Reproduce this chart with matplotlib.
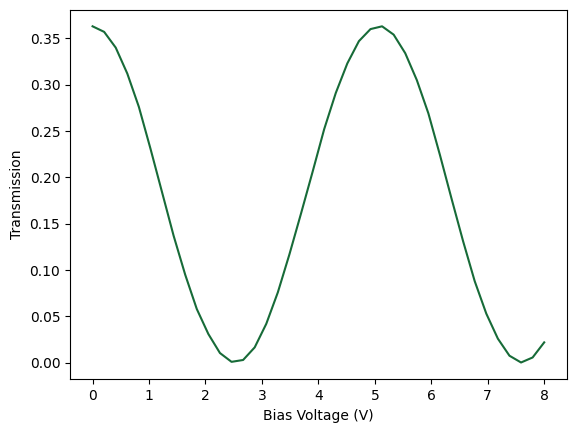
import numpy as np
import matplotlib
matplotlib.use("Agg")
import matplotlib.pyplot as plt

bias_voltage = np.linspace(0, 8, 40)
transmission = [
    0.363, 0.357, 0.340, 0.312, 0.276, 0.231, 0.184, 0.137, 0.095, 0.058,
    0.031, 0.0105, 0.001, 0.003, 0.0166, 0.042, 0.076, 0.117, 0.161, 0.206,
    0.252, 0.291, 0.323, 0.347, 0.360, 0.363, 0.354, 0.334, 0.305, 0.269,
    0.224, 0.177, 0.131, 0.088, 0.053, 0.026, 0.0076, 0.0003, 0.0057, 0.022,
]

fig, ax = plt.subplots(figsize=(5.76, 4.32), dpi=100)
fig.subplots_adjust(left=0.1215, right=0.984, top=0.978, bottom=0.122)
ax.plot(bias_voltage, transmission, color="#176b38", linewidth=1.5)
ax.set_xlabel("Bias Voltage (V)")
ax.set_ylabel("Transmission")
fig.savefig("out.png", dpi=100)
